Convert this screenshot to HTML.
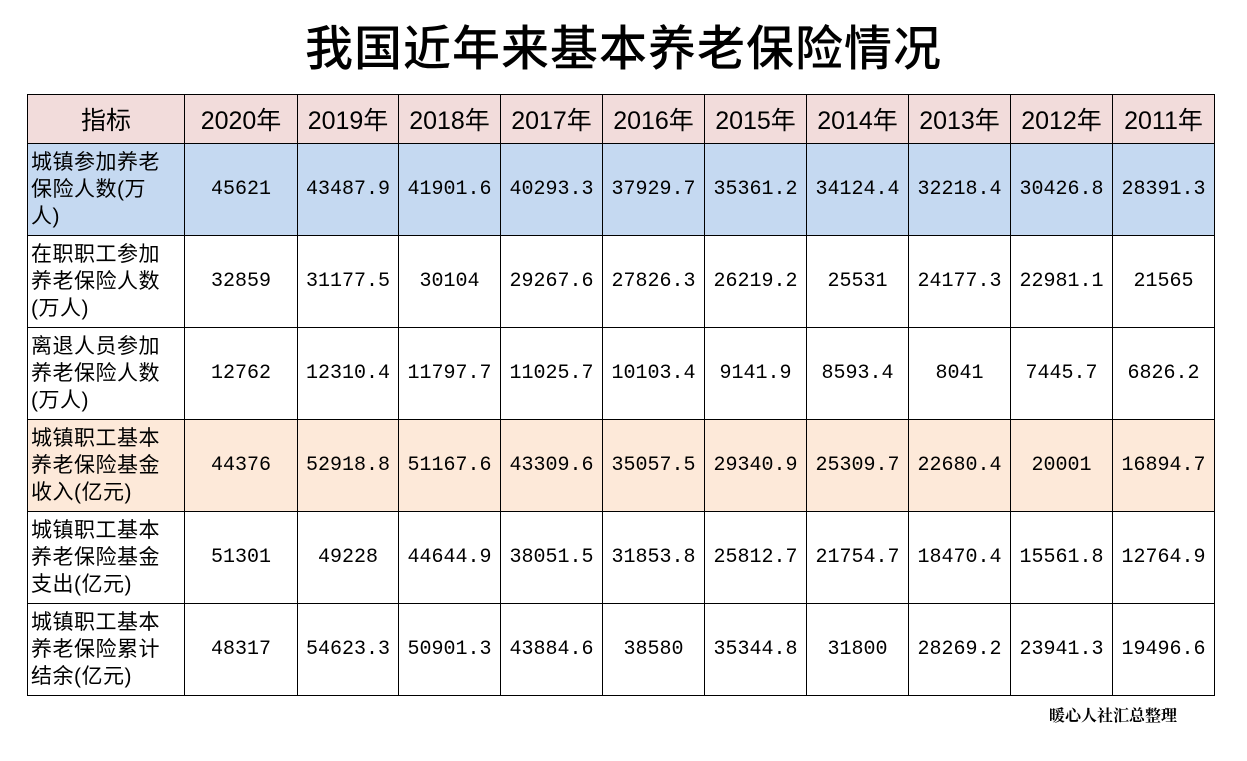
<!DOCTYPE html>
<html><head><meta charset="utf-8"><style>
body{margin:0;width:1247px;height:761px;background:#fff;overflow:hidden;position:relative;font-family:"Liberation Sans","Noto Sans CJK SC",sans-serif;}
.title{position:absolute;left:0;width:1247px;top:20px;text-align:center;font-size:48px;font-weight:500;letter-spacing:1px;line-height:60px;color:#000;}
table{position:absolute;left:27px;top:94px;border-collapse:collapse;table-layout:fixed;}
td{border:1.5px solid #000;padding:0;text-align:center;color:#000;}
tr.h td{height:48px;background:#f2dcdb;font-size:25px;}
tr.d td{height:91px;font-family:"Liberation Mono","Noto Serif CJK SC",monospace;font-size:20px;}
tr.d td.l{text-align:left;font-family:"Liberation Sans","Noto Sans CJK SC",sans-serif;font-size:21px;line-height:27px;padding-left:3px;letter-spacing:0.5px;}
tr.b td{background:#c5d9f1}
tr.p td{background:#fde9d9}
.note{position:absolute;left:1049px;top:703px;font-size:16px;font-weight:bold;font-family:"Noto Serif CJK SC",serif;}
</style></head><body>
<div class="title">我国近年来基本养老保险情况</div>
<table>
<colgroup><col style="width:157px"><col style="width:113px"><col style="width:101px"><col style="width:102px"><col style="width:102px"><col style="width:102px"><col style="width:102px"><col style="width:102px"><col style="width:102px"><col style="width:102px"><col style="width:102px"></colgroup>
<tr class="h"><td>指标</td><td>2020年</td><td>2019年</td><td>2018年</td><td>2017年</td><td>2016年</td><td>2015年</td><td>2014年</td><td>2013年</td><td>2012年</td><td>2011年</td></tr>
<tr class="d b"><td class="l">城镇参加养老<br>保险人数(万<br>人)</td><td>45621</td><td>43487.9</td><td>41901.6</td><td>40293.3</td><td>37929.7</td><td>35361.2</td><td>34124.4</td><td>32218.4</td><td>30426.8</td><td>28391.3</td></tr>
<tr class="d"><td class="l">在职职工参加<br>养老保险人数<br>(万人)</td><td>32859</td><td>31177.5</td><td>30104</td><td>29267.6</td><td>27826.3</td><td>26219.2</td><td>25531</td><td>24177.3</td><td>22981.1</td><td>21565</td></tr>
<tr class="d"><td class="l">离退人员参加<br>养老保险人数<br>(万人)</td><td>12762</td><td>12310.4</td><td>11797.7</td><td>11025.7</td><td>10103.4</td><td>9141.9</td><td>8593.4</td><td>8041</td><td>7445.7</td><td>6826.2</td></tr>
<tr class="d p"><td class="l">城镇职工基本<br>养老保险基金<br>收入(亿元)</td><td>44376</td><td>52918.8</td><td>51167.6</td><td>43309.6</td><td>35057.5</td><td>29340.9</td><td>25309.7</td><td>22680.4</td><td>20001</td><td>16894.7</td></tr>
<tr class="d"><td class="l">城镇职工基本<br>养老保险基金<br>支出(亿元)</td><td>51301</td><td>49228</td><td>44644.9</td><td>38051.5</td><td>31853.8</td><td>25812.7</td><td>21754.7</td><td>18470.4</td><td>15561.8</td><td>12764.9</td></tr>
<tr class="d"><td class="l">城镇职工基本<br>养老保险累计<br>结余(亿元)</td><td>48317</td><td>54623.3</td><td>50901.3</td><td>43884.6</td><td>38580</td><td>35344.8</td><td>31800</td><td>28269.2</td><td>23941.3</td><td>19496.6</td></tr>
</table>
<div class="note">暖心人社汇总整理</div>
</body></html>
